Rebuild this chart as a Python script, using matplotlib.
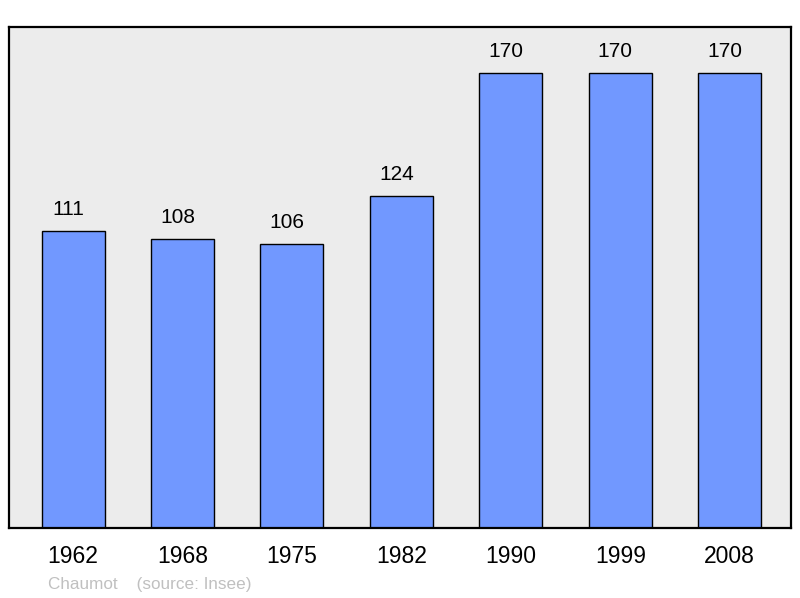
import matplotlib.pyplot as plt

# Population data
years = ['1962', '1968', '1975', '1982', '1990', '1999', '2008']
population = [111, 108, 106, 124, 170, 170, 170]

plt.rcParams['font.family'] = ['Liberation Sans', 'DejaVu Sans']

fig = plt.figure(figsize=(8, 5.98), dpi=100)
ax = fig.add_axes([9 / 800, 1 - 528 / 598, 782 / 800, 501 / 598])
ax.set_facecolor('#ececec')

x = range(len(years))
ax.bar(x, population, width=0.576, color='#7198ff', edgecolor='black', linewidth=1.0)

for xi, v in zip(x, population):
    ax.text(xi - 0.045, v + 8.0, str(v), ha='center', va='center', fontsize=15)

ax.set_xlim(-0.585, 6.56)
ax.set_ylim(0, 187.2)
ax.set_xticks(list(x))
ax.set_xticklabels(years, fontsize=16.5)
ax.tick_params(axis='x', length=0, pad=12.5)
ax.set_yticks([])
for s in ax.spines.values():
    s.set_linewidth(1.6)

fig.text(48 / 800, 1 - 584 / 598, 'Chaumot    (source: Insee)', color='#c0c0c0',
         fontsize=12.3, ha='left', va='center')

fig.savefig('out.png', dpi=100)
